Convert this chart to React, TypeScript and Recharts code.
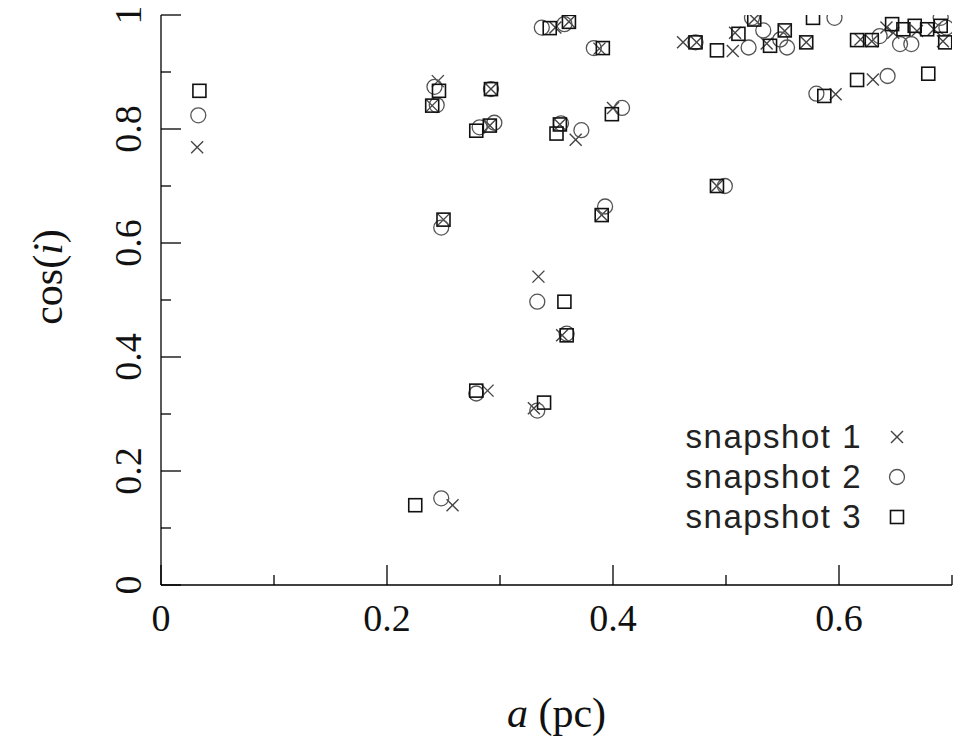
import React from 'react';
import { ScatterChart, Scatter, XAxis, YAxis, Label } from 'recharts';

// snapshot 1 (crosses)
const snap1A = [0.032, 0.245, 0.240, 0.250, 0.258, 0.289, 0.292, 0.291, 0.330, 0.334, 0.355, 0.353, 0.367, 0.400, 0.390, 0.492, 0.349, 0.361, 0.388, 0.462, 0.474, 0.506, 0.508, 0.525, 0.536, 0.552, 0.571, 0.597, 0.619, 0.629, 0.630, 0.642, 0.648, 0.669, 0.684, 0.692];
const snap1Cos = [0.768, 0.884, 0.841, 0.641, 0.140, 0.341, 0.870, 0.806, 0.310, 0.541, 0.438, 0.808, 0.781, 0.837, 0.649, 0.700, 0.978, 0.988, 0.941, 0.952, 0.952, 0.937, 0.969, 0.993, 0.950, 0.972, 0.952, 0.861, 0.957, 0.954, 0.887, 0.978, 0.969, 0.972, 0.975, 0.954];

// snapshot 2 (circles)
const snap2A = [0.033, 0.242, 0.244, 0.248, 0.248, 0.279, 0.292, 0.282, 0.295, 0.333, 0.333, 0.359, 0.354, 0.372, 0.408, 0.393, 0.499, 0.337, 0.357, 0.383, 0.473, 0.520, 0.523, 0.533, 0.554, 0.548, 0.596, 0.580, 0.643, 0.654, 0.664, 0.690, 0.695, 0.636];
const snap2Cos = [0.824, 0.874, 0.842, 0.627, 0.152, 0.336, 0.870, 0.803, 0.811, 0.306, 0.497, 0.441, 0.810, 0.798, 0.837, 0.664, 0.700, 0.978, 0.984, 0.942, 0.952, 0.943, 0.995, 0.973, 0.943, 0.957, 0.995, 0.862, 0.893, 0.949, 0.949, 0.995, 0.978, 0.963];

// snapshot 3 (squares)
const snap3A = [0.034, 0.246, 0.240, 0.250, 0.225, 0.279, 0.292, 0.279, 0.291, 0.339, 0.357, 0.359, 0.350, 0.353, 0.399, 0.390, 0.492, 0.344, 0.361, 0.391, 0.473, 0.492, 0.511, 0.525, 0.539, 0.552, 0.571, 0.577, 0.587, 0.616, 0.629, 0.616, 0.679, 0.647, 0.657, 0.667, 0.678, 0.690, 0.694];
const snap3Cos = [0.867, 0.867, 0.841, 0.641, 0.140, 0.341, 0.870, 0.797, 0.806, 0.320, 0.497, 0.438, 0.792, 0.808, 0.826, 0.649, 0.700, 0.977, 0.988, 0.942, 0.952, 0.938, 0.967, 0.992, 0.946, 0.973, 0.952, 0.995, 0.858, 0.956, 0.956, 0.886, 0.897, 0.984, 0.975, 0.981, 0.975, 0.981, 0.952];

const xTicks = [0, 0.1, 0.2, 0.3, 0.4, 0.5, 0.6, 0.7];
const xTickLabels = ['0', '', '0.2', '', '0.4', '', '0.6', ''];
const yTicks = [0, 0.1, 0.2, 0.3, 0.4, 0.5, 0.6, 0.7, 0.8, 0.9, 1];
const yTickLabels = ['0', '', '0.2', '', '0.4', '', '0.6', '', '0.8', '', '1'];
const seriesNames = ['snapshot 1', 'snapshot 2', 'snapshot 3'];

const toPoints = (a: number[], c: number[]) => a.map((v, i) => ({ a: v, c: c[i] }));

const SERIF = '"Liberation Serif", "DejaVu Serif", serif';
const SANS = '"Liberation Sans", Arial, sans-serif';
const MAJOR = 20;
const MINOR = 10;

const Cross = ({ cx, cy }: any) => (
  <g stroke="#444" strokeWidth={1.4}>
    <line x1={cx - 6} y1={cy - 6} x2={cx + 6} y2={cy + 6} />
    <line x1={cx - 6} y1={cy + 6} x2={cx + 6} y2={cy - 6} />
  </g>
);
const Ring = ({ cx, cy }: any) => (
  <circle cx={cx} cy={cy} r={7.5} fill="none" stroke="#555" strokeWidth={1.3} />
);
const Box = ({ cx, cy }: any) => (
  <rect x={cx - 6.5} y={cy - 6.5} width={13} height={13} fill="none" stroke="#111" strokeWidth={1.6} />
);

const BottomTick = ({ x, y, payload }: any) => {
  const i = xTicks.indexOf(payload.value);
  const major = i % 2 === 0;
  return (
    <g>
      <line x1={x} y1={y} x2={x} y2={y - (major ? MAJOR : MINOR)} stroke="#000" strokeWidth={1.3} />
      {xTickLabels[i] && (
        <text x={x} y={y + 46} textAnchor="middle" fontSize={38} fontFamily={SERIF} fill="#111">
          {xTickLabels[i]}
        </text>
      )}
    </g>
  );
};
const TopTick = ({ x, y, payload }: any) => {
  const i = xTicks.indexOf(payload.value);
  return <line x1={x} y1={y} x2={x} y2={y + (i % 2 === 0 ? MAJOR : MINOR)} stroke="#000" strokeWidth={1.3} />;
};
const LeftTick = ({ x, y, payload }: any) => {
  const i = yTicks.indexOf(payload.value);
  const major = i % 2 === 0;
  const tx = x - 20;
  return (
    <g>
      <line x1={x} y1={y} x2={x + (major ? MAJOR : MINOR)} y2={y} stroke="#000" strokeWidth={1.3} />
      {yTickLabels[i] && (
        <text x={tx} y={y} transform={`rotate(-90 ${tx} ${y})`} textAnchor="middle" fontSize={38} fontFamily={SERIF} fill="#111">
          {yTickLabels[i]}
        </text>
      )}
    </g>
  );
};
const RightTick = ({ x, y, payload }: any) => {
  const i = yTicks.indexOf(payload.value);
  return <line x1={x} y1={y} x2={x - (i % 2 === 0 ? MAJOR : MINOR)} y2={y} stroke="#000" strokeWidth={1.3} />;
};

const XTitle = ({ viewBox }: any) => (
  <text x={viewBox.x + viewBox.width / 2} y={viewBox.y + 142} textAnchor="middle" fontSize={42} fontFamily={SERIF} fill="#111">
    <tspan fontStyle="italic">a</tspan> (pc)
  </text>
);
const YTitle = ({ viewBox }: any) => {
  const x = 62;
  const y = viewBox.y + 262;
  return (
    <text x={x} y={y} transform={`rotate(-90 ${x} ${y})`} textAnchor="middle" fontSize={42} fontFamily={SERIF} fill="#111">
      cos(<tspan fontStyle="italic">i</tspan>)
    </text>
  );
};

const markers = [
  (cx: number, cy: number) => <Cross cx={cx} cy={cy} />,
  (cx: number, cy: number) => <Ring cx={cx} cy={cy} />,
  (cx: number, cy: number) => <Box cx={cx} cy={cy} />,
];

const LegendBox = () => (
  <div style={{ position: 'absolute', left: 608, top: 417, fontFamily: SANS, fontSize: 33, letterSpacing: 1.5, color: '#222' }}>
    {seriesNames.map((name, i) => (
      <div key={name} style={{ display: 'flex', alignItems: 'center', height: 40 }}>
        <span style={{ width: 254, textAlign: 'right', whiteSpace: 'pre' }}>{name}</span>
        <svg width={30} height={30} style={{ marginLeft: 20 }}>
          {markers[i](15, 15)}
        </svg>
      </div>
    ))}
  </div>
);

export default function App() {
  return (
    <div style={{ position: 'relative', margin: -8, width: 964, height: 749, background: '#fff' }}>
      <ScatterChart width={964} height={749} margin={{ top: 15, right: 12, bottom: 0, left: 0 }}>
        <XAxis
          type="number"
          dataKey="a"
          domain={[0, 0.7]}
          ticks={xTicks}
          interval={0}
          allowDataOverflow
          height={164}
          tickSize={0}
          tickMargin={0}
          tickLine={false}
          axisLine={{ stroke: '#000', strokeWidth: 1.3 }}
          tick={BottomTick}
        >
          <Label content={XTitle} />
        </XAxis>
        <XAxis
          xAxisId="top"
          orientation="top"
          type="number"
          dataKey="a"
          domain={[0, 0.7]}
          ticks={xTicks}
          interval={0}
          allowDataOverflow
          height={0}
          tickSize={0}
          tickMargin={0}
          tickLine={false}
          axisLine={{ stroke: '#000', strokeWidth: 1.3 }}
          tick={TopTick}
        />
        <YAxis
          type="number"
          dataKey="c"
          domain={[0, 1]}
          ticks={yTicks}
          interval={0}
          allowDataOverflow
          width={161}
          tickSize={0}
          tickMargin={0}
          tickLine={false}
          axisLine={{ stroke: '#000', strokeWidth: 1.3 }}
          tick={LeftTick}
        >
          <Label content={YTitle} />
        </YAxis>
        <YAxis
          yAxisId="right"
          orientation="right"
          type="number"
          dataKey="c"
          domain={[0, 1]}
          ticks={yTicks}
          interval={0}
          allowDataOverflow
          width={0}
          tickSize={0}
          tickMargin={0}
          tickLine={false}
          axisLine={{ stroke: '#000', strokeWidth: 1.3 }}
          tick={RightTick}
        />
        <Scatter name="snapshot 1" data={toPoints(snap1A, snap1Cos)} shape={Cross} isAnimationActive={false} />
        <Scatter name="snapshot 2" data={toPoints(snap2A, snap2Cos)} shape={Ring} isAnimationActive={false} />
        <Scatter name="snapshot 3" data={toPoints(snap3A, snap3Cos)} shape={Box} isAnimationActive={false} />
      </ScatterChart>
      <LegendBox />
    </div>
  );
}
